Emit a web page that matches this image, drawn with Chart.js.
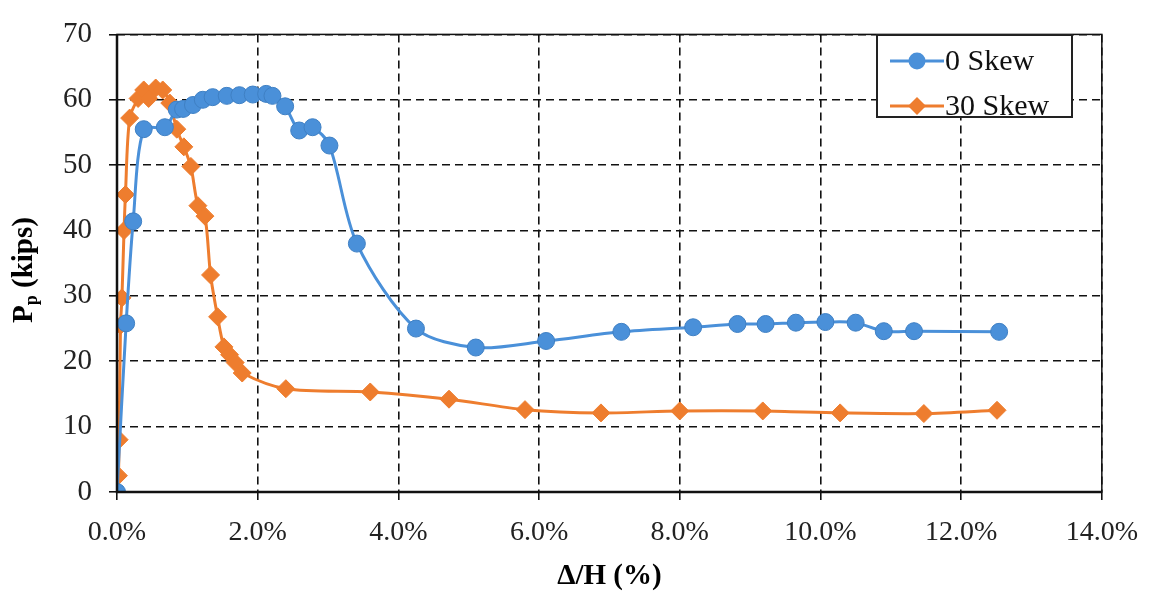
<!DOCTYPE html>
<html>
<head>
<meta charset="utf-8">
<script src="https://cdn.jsdelivr.net/npm/chart.js@4/dist/chart.umd.min.js"></script>
<style>
  html, body { margin: 0; padding: 0; background: #fff; }
  #wrap { width: 1154px; height: 594px; }
</style>
</head>
<body>
<div id="wrap"><canvas id="chart" width="1154" height="594"></canvas></div>
<script>
// Data
const skew0X = [0.0, 0.13, 0.23, 0.38, 0.68, 0.85, 0.94, 1.08, 1.22, 1.36, 1.56, 1.74, 1.93, 2.12, 2.21, 2.39, 2.59, 2.78, 3.02, 3.41, 4.25, 5.10, 6.10, 7.17, 8.19, 8.82, 9.22, 9.65, 10.07, 10.50, 10.90, 11.33, 12.54];
const skew0Y = [0.0, 25.8, 41.4, 55.5, 55.8, 58.5, 58.6, 59.2, 60.0, 60.4, 60.6, 60.7, 60.8, 60.9, 60.6, 59.0, 55.3, 55.8, 53.0, 38.0, 25.0, 22.1, 23.1, 24.5, 25.2, 25.7, 25.7, 25.9, 26.0, 25.9, 24.6, 24.6, 24.5];

const skew30X = [0.0, 0.02, 0.03, 0.05, 0.07, 0.10, 0.12, 0.18, 0.30, 0.38, 0.45, 0.55, 0.65, 0.75, 0.85, 0.95, 1.05, 1.15, 1.25, 1.33, 1.43, 1.52, 1.60, 1.68, 1.78, 2.40, 3.60, 4.72, 5.80, 6.88, 8.00, 9.18, 10.28, 11.47, 12.51];
const skew30Y = [0.0, 2.5, 8.0, 25.5, 29.7, 40.0, 45.5, 57.2, 60.2, 61.5, 60.2, 61.8, 61.5, 59.5, 55.5, 52.8, 49.8, 43.8, 42.2, 33.2, 26.8, 22.2, 21.0, 19.8, 18.2, 15.8, 15.3, 14.2, 12.6, 12.1, 12.4, 12.4, 12.1, 12.0, 12.5];

const seriesNames = ['0 Skew', '30 Skew'];
const xTitle = 'Δ/H (%)';
const yTitleMain = 'P';
const yTitleSub = 'p';
const yTitleRest = ' (kips)';

const blue = '#4A90D9';
const orange = '#EE7D2E';
const serif = '"Liberation Serif", "DejaVu Serif", serif';

function toPoints(xs, ys) {
    return xs.map((x, i) => ({ x: x, y: ys[i] }));
}

// Solid frame around the plot area
const framePlugin = {
    id: 'frame',
    afterDatasetsDraw(chart) {
        const a = chart.chartArea;
        const c = chart.ctx;
        c.save();
        c.strokeStyle = '#111';
        c.lineWidth = 1.5;
        c.strokeRect(a.left, a.top, a.right - a.left, a.bottom - a.top);
        c.lineWidth = 2.5;
        c.beginPath();
        c.moveTo(a.left, a.top);
        c.lineTo(a.left, a.bottom);
        c.lineTo(a.right, a.bottom);
        c.stroke();
        c.restore();
    }
};

// Y title with subscript
const yTitlePlugin = {
    id: 'yTitle',
    afterDraw(chart) {
        const c = chart.ctx;
        c.save();
        c.translate(25, 270);
        c.rotate(-Math.PI / 2);
        c.fillStyle = '#000';
        c.textBaseline = 'middle';
        const big = 'bold 29px ' + serif;
        const small = 'bold 18px ' + serif;
        c.font = big;
        const w1 = c.measureText(yTitleMain).width;
        const w3 = c.measureText(yTitleRest).width;
        c.font = small;
        const w2 = c.measureText(yTitleSub).width;
        let x = -(w1 + w2 + w3) / 2;
        c.font = big;
        c.fillText(yTitleMain, x, 0);
        x += w1;
        c.font = small;
        c.fillText(yTitleSub, x, 7);
        x += w2;
        c.font = big;
        c.fillText(yTitleRest, x, 0);
        c.restore();
    }
};

// Legend box inside the plot
const legendPlugin = {
    id: 'boxLegend',
    afterDraw(chart) {
        const c = chart.ctx;
        const left = 877, top = 35, w = 195, h = 82;
        c.save();
        c.fillStyle = '#fff';
        c.fillRect(left, top, w, h);
        c.strokeStyle = '#222';
        c.lineWidth = 2;
        c.strokeRect(left, top, w, h);
        const rows = [61, 106];
        chart.data.datasets.forEach((ds, i) => {
            const y = rows[i];
            c.strokeStyle = ds.borderColor;
            c.lineWidth = 3;
            c.beginPath();
            c.moveTo(890, y);
            c.lineTo(944, y);
            c.stroke();
            c.fillStyle = ds.pointBackgroundColor;
            c.beginPath();
            if (ds.pointStyle === 'circle') {
                c.arc(917, y, ds.pointRadius, 0, Math.PI * 2);
            } else {
                const r = ds.pointRadius;
                c.moveTo(917, y - r);
                c.lineTo(917 + r, y);
                c.lineTo(917, y + r);
                c.lineTo(917 - r, y);
                c.closePath();
            }
            c.fill();
            c.fillStyle = '#111';
            c.font = '30px ' + serif;
            c.textBaseline = 'middle';
            c.fillText(ds.label, 945, y + 1);
        });
        c.restore();
    }
};

const ctx = document.getElementById('chart').getContext('2d');
const chart = new Chart(ctx, {
    type: 'scatter',
    data: {
        datasets: [{
            label: seriesNames[0],
            data: toPoints(skew0X, skew0Y),
            showLine: true,
            borderColor: blue,
            backgroundColor: blue,
            pointBackgroundColor: blue,
            pointBorderColor: '#3F80C4',
            pointBorderWidth: 1,
            pointStyle: 'circle',
            pointRadius: 8.5,
            borderWidth: 3,
            tension: 0.3
        }, {
            label: seriesNames[1],
            data: toPoints(skew30X, skew30Y),
            showLine: true,
            borderColor: orange,
            backgroundColor: orange,
            pointBackgroundColor: orange,
            pointBorderColor: orange,
            pointBorderWidth: 1,
            pointStyle: 'rectRot',
            pointRadius: 9,
            borderWidth: 3,
            tension: 0.3
        }]
    },
    options: {
        responsive: false,
        animation: false,
        layout: { padding: { left: 0, top: 20, right: 47, bottom: 0 } },
        plugins: {
            legend: { display: false },
            tooltip: { enabled: false }
        },
        scales: {
            x: {
                type: 'linear',
                min: 0,
                max: 14,
                afterFit(scale) { scale.height = 102; },
                ticks: {
                    stepSize: 2,
                    padding: 16,
                    color: '#222',
                    font: { family: serif, size: 28 },
                    callback: v => v.toFixed(1) + '%'
                },
                grid: {
                    color: '#111',
                    lineWidth: 1.6,
                    tickLength: 8,
                    tickColor: '#111',
                    tickBorderDash: []
                },
                border: { display: false, dash: [8, 5] },
                title: {
                    display: true,
                    text: xTitle,
                    color: '#000',
                    font: { family: serif, size: 29, weight: 'bold' },
                    padding: { top: 0, bottom: 0 }
                }
            },
            y: {
                min: 0,
                max: 70,
                afterFit(scale) { scale.width = 117; },
                ticks: {
                    stepSize: 10,
                    padding: 17,
                    color: '#222',
                    font: { family: serif, size: 29 }
                },
                grid: {
                    color: '#111',
                    lineWidth: 1.6,
                    tickLength: 8,
                    tickColor: '#111',
                    tickBorderDash: []
                },
                border: { display: false, dash: [8, 5] }
            }
        }
    },
    plugins: [framePlugin, yTitlePlugin, legendPlugin]
});
</script>
</body>
</html>
